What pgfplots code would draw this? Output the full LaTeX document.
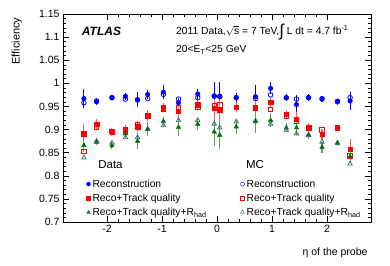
\documentclass[border=0pt]{standalone}
\usepackage{fontspec}
\setmainfont{Liberation Sans}
\usepackage{pgfplots}
\pgfplotsset{compat=1.18}
\usepackage{pgfplotstable}
\definecolor{rhmc}{RGB}{51,102,102}
\definecolor{rhdata}{RGB}{0,110,0}
\pgfplotsset{compactimg/.style={legend image code/.code={\draw[mark repeat=2,mark phase=2,##1] plot coordinates {(0cm,0cm)(0.15cm,0cm)(0.3cm,0cm)};}}}
\pgfplotstableread{
x rec erec mrec trk etrk mtrk rh erh mrh
-2.42 0.967 0.020 0.958 0.891 0.020 0.853 0.866 0.015 0.839
-2.19 0.960 0.007 0.962 0.912 0.010 0.905 0.873 0.006 0.875
-1.91 0.969 0.006 0.969 0.895 0.008 0.896 0.865 0.008 0.871
-1.665 0.972 0.007 0.966 0.900 0.010 0.897 0.891 0.010 0.883
-1.445 0.965 0.016 0.964 0.906 0.012 0.910 0.875 0.018 0.883
-1.26 0.976 0.010 0.967 0.930 0.012 0.930 0.901 0.015 0.901
-0.975 0.981 0.015 0.976 0.947 0.010 0.944 0.918 0.010 0.909
-0.7 0.958 0.010 0.966 0.940 0.012 0.948 0.905 0.020 0.920
-0.35 0.977 0.010 0.969 0.954 0.012 0.948 0.912 0.012 0.920
-0.05 0.973 0.030 0.972 0.946 0.030 0.952 0.895 0.030 0.912
0.05 0.972 0.030 0.971 0.942 0.030 0.953 0.888 0.030 0.904
0.35 0.969 0.010 0.969 0.949 0.010 0.948 0.906 0.015 0.917
0.7 0.971 0.025 0.967 0.948 0.025 0.946 0.917 0.025 0.919
0.975 0.989 0.013 0.975 0.959 0.012 0.943 0.920 0.015 0.912
1.26 0.969 0.008 0.969 0.933 0.010 0.929 0.904 0.010 0.899
1.445 0.954 0.020 0.966 0.922 0.015 0.917 0.904 0.015 0.891
1.665 0.969 0.007 0.969 0.904 0.010 0.902 0.889 0.010 0.888
1.91 0.966 0.007 0.967 0.890 0.012 0.899 0.862 0.012 0.873
2.19 0.960 0.006 0.961 0.903 0.006 0.904 0.871 0.007 0.871
2.42 0.962 0.020 0.969 0.857 0.022 0.843 0.842 0.015 0.826
}\eff
\begin{document}
\begin{tikzpicture}
\begin{axis}[name=ax, scale only axis, width=308pt, height=208pt,
  xmin=-2.8, xmax=2.8, ymin=0.7, ymax=1.15,
  xtick={-2,-1,0,1,2},
  ytick={0.7,0.75,0.8,0.85,0.9,0.95,1,1.05,1.1,1.15},
  minor x tick num=4, minor y tick num=4,
  tick align=inside, major tick length=6pt, minor tick length=3pt,
  tick style={black, line width=0.5pt},
  /pgf/number format/assume math mode=true,
  tick label style={font=\fontsize{10.5}{12}\selectfont},
  xlabel={η of the probe},
  xlabel style={at={(axis description cs:1,0)}, anchor=north east, yshift=-22pt, font=\fontsize{10.5}{12}\selectfont},
  ylabel={Efficiency},
  ylabel style={at={(axis description cs:-0.122,1)}, anchor=south east, font=\fontsize{11}{12}\selectfont},
  legend columns=2, legend cell align=left,
  legend style={draw=none, fill=none, at={(rel axis cs:0.066,0.224)}, anchor=north west,
    font=\fontsize{10.3}{12}\selectfont, row sep=1.2pt,
    /tikz/every even column/.append style={column sep=32pt}},
]
\addlegendimage{only marks, mark=*, blue, mark size=2pt, compactimg}
\addlegendentry{Reconstruction}
\addlegendimage{only marks, mark=o, blue, mark size=2pt, compactimg}
\addlegendentry{Reconstruction}
\addlegendimage{only marks, mark=square*, red, mark size=2pt, compactimg}
\addlegendentry{Reco+Track quality}
\addlegendimage{only marks, mark=square, red, mark size=2pt, compactimg}
\addlegendentry{Reco+Track quality}
\addlegendimage{only marks, mark=triangle*, rhmc, mark size=2.2pt, compactimg}
\addlegendentry{Reco+Track quality+R\textsubscript{had}}
\addlegendimage{only marks, mark=triangle, rhmc, mark size=2.2pt, compactimg}
\addlegendentry{Reco+Track quality+R\textsubscript{had}}

\addplot[forget plot, only marks, mark=*, blue, mark size=2.3pt,
  error bars/.cd, y dir=both, y explicit, error mark=none, error bar style={blue, line width=1.1pt}]
  table[x=x, y=rec, y error=erec] {\eff};
\addplot[forget plot, only marks, mark=square*, red, mark size=2.2pt,
  error bars/.cd, y dir=both, y explicit, error mark=none, error bar style={red!65, line width=1.1pt}]
  table[x=x, y=trk, y error=etrk] {\eff};
\addplot[forget plot, only marks, mark=triangle*, rhdata, mark size=2.6pt,
  error bars/.cd, y dir=both, y explicit, error mark=none, error bar style={rhdata!65, line width=1.1pt}]
  table[x=x, y=rh, y error=erh] {\eff};
\addplot[forget plot, only marks, mark=o, blue, mark size=2.3pt, mark options={line width=0.8pt}]
  table[x=x, y=mrec] {\eff};
\addplot[forget plot, only marks, mark=square, red, mark size=2.2pt, mark options={line width=0.8pt}]
  table[x=x, y=mtrk] {\eff};
\addplot[forget plot, only marks, mark=triangle, rhmc, mark size=2.6pt, mark options={line width=0.7pt}]
  table[x=x, y=mrh] {\eff};

\node[anchor=west, font=\bfseries\itshape\fontsize{12}{12}\selectfont] at (axis description cs:0.05,0.918) {ATLAS};
\node[anchor=west, font=\fontsize{10.3}{12}\selectfont, inner sep=0pt] at (axis description cs:0.367,0.913) {2011 Data,$\sqrt{\hbox{s}}$ = 7 TeV,\raisebox{-0.4ex}{\fontsize{17}{17}\selectfont∫} L dt = 4.7 fb\textsuperscript{-1}};
\node[anchor=west, font=\fontsize{10.3}{12}\selectfont, inner sep=0pt] at (axis description cs:0.367,0.827) {20<E\textsubscript{T}<25 GeV};
\node[anchor=west, font=\fontsize{11.5}{12}\selectfont, inner sep=0pt] at (axis description cs:0.114,0.274) {Data};
\node[anchor=west, font=\fontsize{11.5}{12}\selectfont, inner sep=0pt] at (axis description cs:0.594,0.274) {MC};
\end{axis}
\pgfresetboundingbox
\path[use as bounding box] ([shift={(-63pt,-43pt)}]ax.south west) rectangle ([shift={(19pt,14pt)}]ax.north east);
\end{tikzpicture}
\end{document}
